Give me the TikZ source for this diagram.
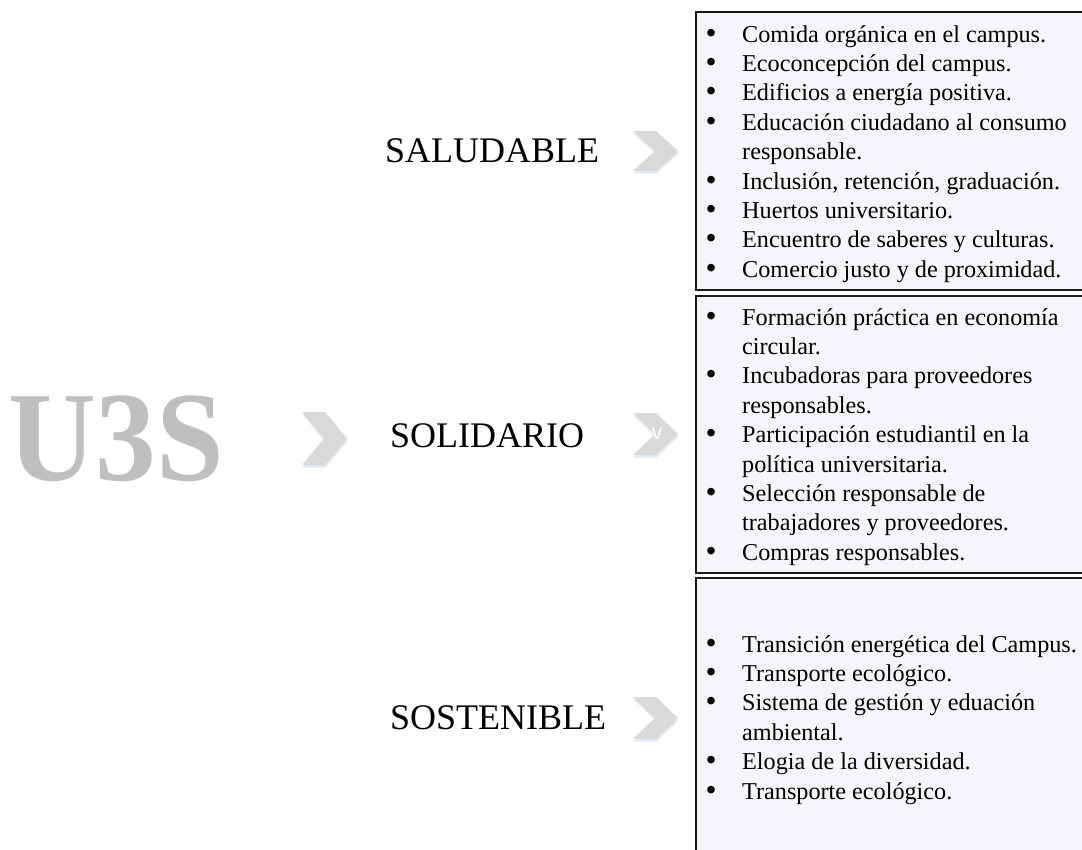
\documentclass[tikz,border=0pt]{standalone}
\usepackage{fontspec}
\setmainfont{Liberation Serif}
\newfontfamily\sansf{Liberation Sans}
\usetikzlibrary{calc}
\definecolor{chevfill}{HTML}{D9D9D9}
\definecolor{chevshadow}{HTML}{E1E9F2}
\definecolor{boxfill}{HTML}{F5F6F9}
\definecolor{bigtext}{HTML}{BFBFBF}
\definecolor{boxline}{HTML}{1A1A1A}
\newcommand\bl{\makebox[36pt][l]{\hspace{-0.5pt}\raisebox{-0.9pt}{\scalebox{1.3}{•}}}}
\newcommand\ind{\hspace*{36pt}}
\newcommand\chevron[5]{% x0 y0 w h d
  \fill[chevshadow] ($(#1,#2)+(0.5,2.5)$) -- ++(#3-#5,0) -- ++(#5,#4/2) -- ++(-#5,#4/2) -- ++(-#3+#5,0) -- ++(#5,-#4/2) -- cycle;
  \fill[chevfill] (#1,#2) -- ++(#3-#5,0) -- ++(#5,#4/2) -- ++(-#5,#4/2) -- ++(-#3+#5,0) -- ++(#5,-#4/2) -- cycle;
}
\tikzset{
  listbox/.style={draw=boxline, line width=2pt, fill=boxfill},
  listtext/.style={anchor=north west, inner sep=0pt, align=left, font=\fontsize{24.2}{29.4}\selectfont},
  label/.style={anchor=base west, inner sep=0pt, font=\fontsize{36}{40}\selectfont},
}
\begin{document}
\begin{tikzpicture}[x=1pt,y=-1pt]
\useasboundingbox (0,0) rectangle (1082,850);
\fill[white] (0,0) rectangle (1082,850);
% big label
\node[anchor=base west, inner sep=0pt, text=bigtext, font=\fontsize{128}{130}\selectfont\bfseries] (u3s) at (8,480) {\scalebox{0.95}[1]{U3S}};
% chevrons
\chevron{302}{412}{45}{53}{22}
\chevron{633}{131}{45}{40}{22}
\chevron{633}{413}{45}{42}{22}
\chevron{633}{697}{45}{42}{22}
\node[inner sep=0pt, text=white, font=\sansf\fontsize{22}{24}\selectfont] (v) at (657,434) {v};
% labels
\node[label] (sal) at (385,163) {SALUDABLE};
\node[label] (sol) at (390,447) {SOLIDARIO};
\node[label] (sos) at (390,729) {SOSTENIBLE};
% boxes
\path[listbox] (696,12) rectangle (1095,290);
\path[listbox] (696,296) rectangle (1095,573);
\path[listbox] (696,578) rectangle (1095,870);
\node[listtext] (l1) at (706,21.4) {\strut\bl Comida orgánica en el campus.\\
\bl Ecoconcepción del campus.\\
\bl Edificios a energía positiva.\\
\bl Educación ciudadano al consumo\\
\ind responsable.\\
\bl Inclusión, retención, graduación.\\
\bl Huertos universitario.\\
\bl Encuentro de saberes y culturas.\\
\bl Comercio justo y de proximidad.};
\node[listtext] (l2) at (706,304.4) {\strut\bl Formación práctica en economía\\
\ind circular.\\
\bl Incubadoras para proveedores\\
\ind responsables.\\
\bl Participación estudiantil en la\\
\ind política universitaria.\\
\bl Selección responsable de\\
\ind trabajadores y proveedores.\\
\bl Compras responsables.};
\node[listtext] (l3) at (706,631.4) {\strut\bl Transición energética del Campus.\\
\bl Transporte ecológico.\\
\bl Sistema de gestión y eduación\\
\ind ambiental.\\
\bl Elogia de la diversidad.\\
\bl Transporte ecológico.};
\end{tikzpicture}
\end{document}
